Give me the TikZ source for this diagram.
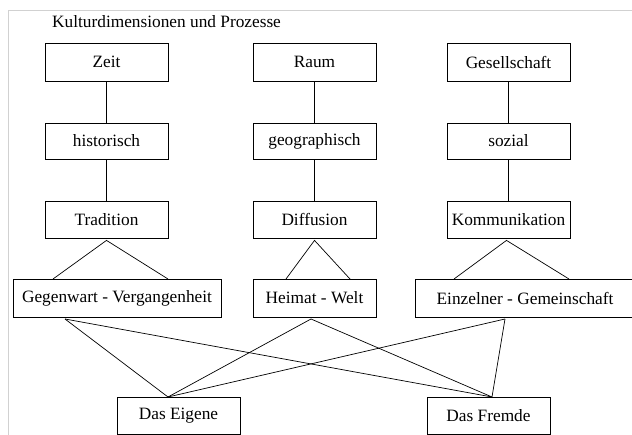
\documentclass[tikz,border=0pt]{standalone}
\usepackage{fontspec}
\setmainfont{Liberation Serif}
\begin{document}
\begin{tikzpicture}[x=1pt,y=-1pt,
  box/.style={draw=black,line width=0.8pt,rectangle,inner sep=0pt,
    font=\fontsize{17.3}{20}\selectfont,text=black},
  conn/.style={draw=black,line width=0.7pt},
  frameline/.style={draw=black!18,line width=1pt}]
\useasboundingbox (0,0) rectangle (632,435);
\clip (0,0) rectangle (632,435);
\draw[frameline] (8,436) -- (8,11) -- (633,11);
\node[font=\fontsize{17.3}{20}\selectfont,anchor=west,inner sep=0pt] (title) at (52,22) {Kulturdimensionen und Prozesse};
% row 1
\node[box,minimum width=123pt,minimum height=38pt] (zeit) at (106.5,62) {Zeit};
\node[box,minimum width=123pt,minimum height=38pt] (raum) at (314.5,62) {Raum};
\node[box,minimum width=123pt,minimum height=38pt] (ges) at (508.5,62) {Gesellschaft};
% row 2
\node[box,minimum width=123pt,minimum height=36pt] (hist) at (106.5,141) {historisch};
\node[box,minimum width=123pt,minimum height=36pt] (geo) at (314.5,141) {geographisch};
\node[box,minimum width=123pt,minimum height=36pt] (soz) at (508.5,141) {sozial};
% row 3
\node[box,minimum width=123pt,minimum height=37pt] (trad) at (106.5,219.5) {Tradition};
\node[box,minimum width=123pt,minimum height=37pt] (diff) at (314.5,219.5) {Diffusion};
\node[box,minimum width=123pt,minimum height=37pt] (komm) at (508.5,219.5) {Kommunikation};
% row 4
\node[box,minimum width=208pt,minimum height=38pt] (gv) at (117,298) {Gegenwart - Vergangenheit};
\node[box,minimum width=123pt,minimum height=38pt] (hw) at (314.5,298) {Heimat - Welt};
\node[box,minimum width=220pt,minimum height=38pt] (eg) at (525,298) {Einzelner - Gemeinschaft};
% row 5
\node[box,minimum width=123pt,minimum height=37pt] (eig) at (178.5,415.5) {Das Eigene};
\node[box,minimum width=123pt,minimum height=37pt] (fre) at (488.5,415.5) {Das Fremde};
% vertical connectors
\draw[conn] (zeit.south) -- (hist.north);
\draw[conn] (hist.south) -- (trad.north);
\draw[conn] (raum.south) -- (geo.north);
\draw[conn] (geo.south) -- (diff.north);
\draw[conn] (ges.south) -- (soz.north);
\draw[conn] (soz.south) -- (komm.north);
% triangles
\coordinate (gvL) at (53,279);
\coordinate (gvR) at (168,279);
\coordinate (hwL) at (286,279);
\coordinate (hwR) at (350,279);
\coordinate (egL) at (454,279);
\coordinate (egR) at (569,279);
\draw[conn] (gvL) -- ([yshift=-2pt]trad.south) -- (gvR);
\draw[conn] (hwL) -- ([yshift=-2pt]diff.south) -- (hwR);
\draw[conn] (egL) -- ([xshift=-2pt,yshift=-2pt]komm.south) -- (egR);
% bottom crossing lines
\coordinate (gvB) at (65,319);
\coordinate (hwB) at (311,319);
\coordinate (egB) at (505,319);
\coordinate (eigT) at (168,397);
\coordinate (freT) at (492,397);
\draw[conn] (gvB) -- (eigT);
\draw[conn] (gvB) -- (freT);
\draw[conn] (hwB) -- (eigT);
\draw[conn] (hwB) -- (freT);
\draw[conn] (egB) -- (eigT);
\draw[conn] (egB) -- (freT);
\end{tikzpicture}
\end{document}
